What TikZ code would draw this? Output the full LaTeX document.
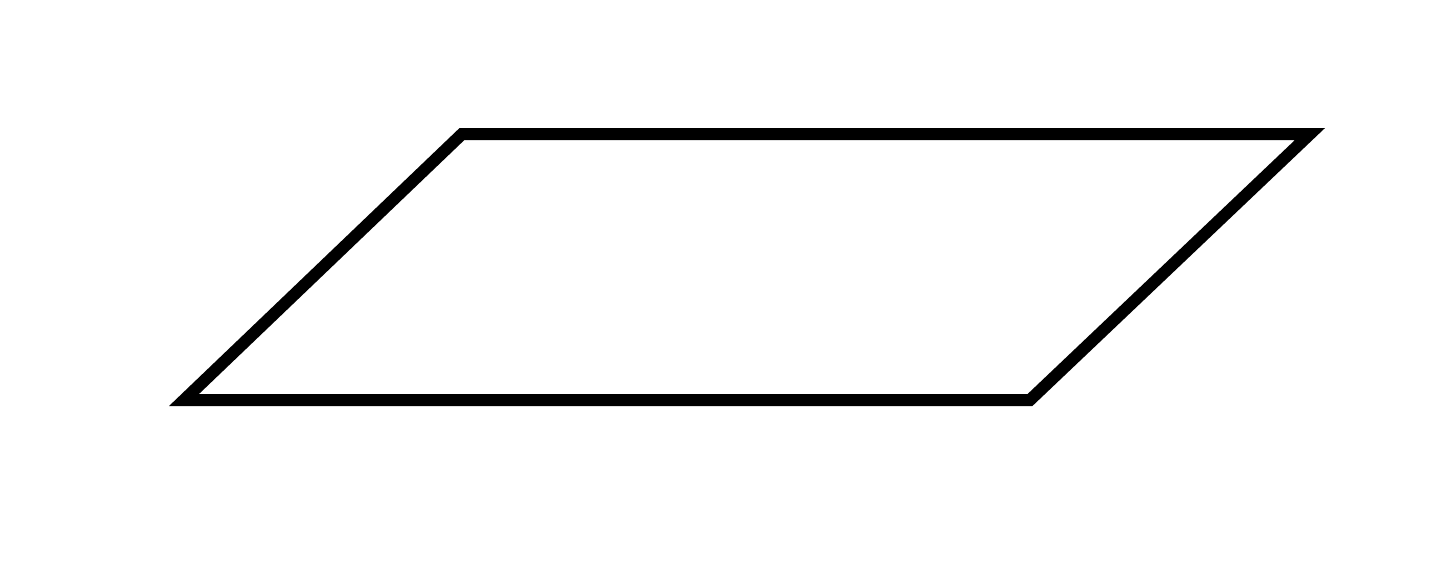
\documentclass[tikz,border=0pt]{standalone}
\begin{document}
\begin{tikzpicture}[x=1pt,y=-1pt,
  shapeline/.style={draw=black,line width=12pt,miter limit=10}]
\useasboundingbox (0,0) rectangle (1440,576);
\draw[shapeline] (462,134) -- (1310,134) -- (1030,400) -- (184,400) -- cycle;
\end{tikzpicture}
\end{document}
